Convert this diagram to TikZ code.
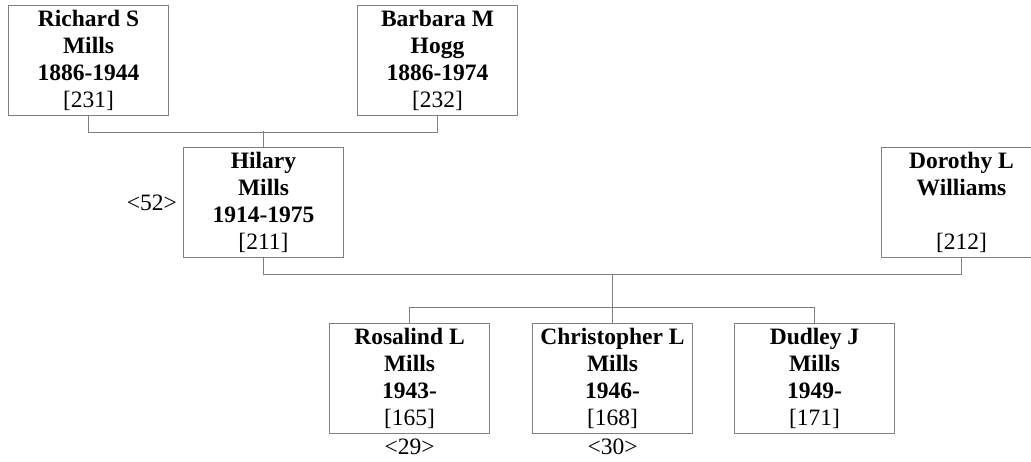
\documentclass[tikz,border=0pt]{standalone}
\usepackage{fontspec}
\setmainfont{Liberation Serif}
\usetikzlibrary{positioning,calc}
\begin{document}
\begin{tikzpicture}[x=1pt,y=-1pt,
  person/.style={rectangle, draw=gray, line width=1pt, anchor=north west,
    minimum width=160pt, minimum height=110pt, align=center,
    font=\fontsize{23.5}{27}\selectfont, inner sep=0pt},
  link/.style={draw=gray, line width=1pt},
  gen/.style={font=\fontsize{23.5}{27}\selectfont, inner sep=0pt}
]
\useasboundingbox (0,0) rectangle (1031,461);
% parents of Hilary
\node[person] (richard) at (8,5) {\textbf{Richard S}\\\textbf{Mills}\\\textbf{1886-1944}\\{}[231]};
\node[person] (barbara) at (357,5) {\textbf{Barbara M}\\\textbf{Hogg}\\\textbf{1886-1974}\\{}[232]};
% couple
\node[person] (hilary) at (183,147) {\textbf{Hilary}\\\textbf{Mills}\\\textbf{1914-1975}\\{}[211]};
\node[person] (dorothy) at (881,147) {\textbf{Dorothy L}\\\textbf{Williams}\\~\\{}[212]};
\node[gen, left=6pt of hilary] (g52) {<52>};
% children
\node[person] (rosalind) at (329,323) {\textbf{Rosalind L}\\\textbf{Mills}\\\textbf{1943-}\\{}[165]};
\node[person] (christopher) at (532,323) {\textbf{Christopher L}\\\textbf{Mills}\\\textbf{1946-}\\{}[168]};
\node[person] (dudley) at (734,323) {\textbf{Dudley J}\\\textbf{Mills}\\\textbf{1949-}\\{}[171]};
\node[gen, below=5pt of rosalind] (g29) {<29>};
\node[gen, below=5pt of christopher] (g30) {<30>};

\draw[link] (richard.south) -- ++(0,16) -| (barbara.south);
\draw[link] (hilary.north) -- ++(0,-16);
\draw[link] (hilary.south) -- ++(0,16) -| (dorothy.south);
\coordinate (fam) at ($(hilary.south)!0.5!(dorothy.south)+(0,16)$);
\draw[link] (rosalind.north) -- ++(0,-16) -| (dudley.north);
\draw[link] (christopher.north) -- (christopher.north |- fam);
\end{tikzpicture}
\end{document}
